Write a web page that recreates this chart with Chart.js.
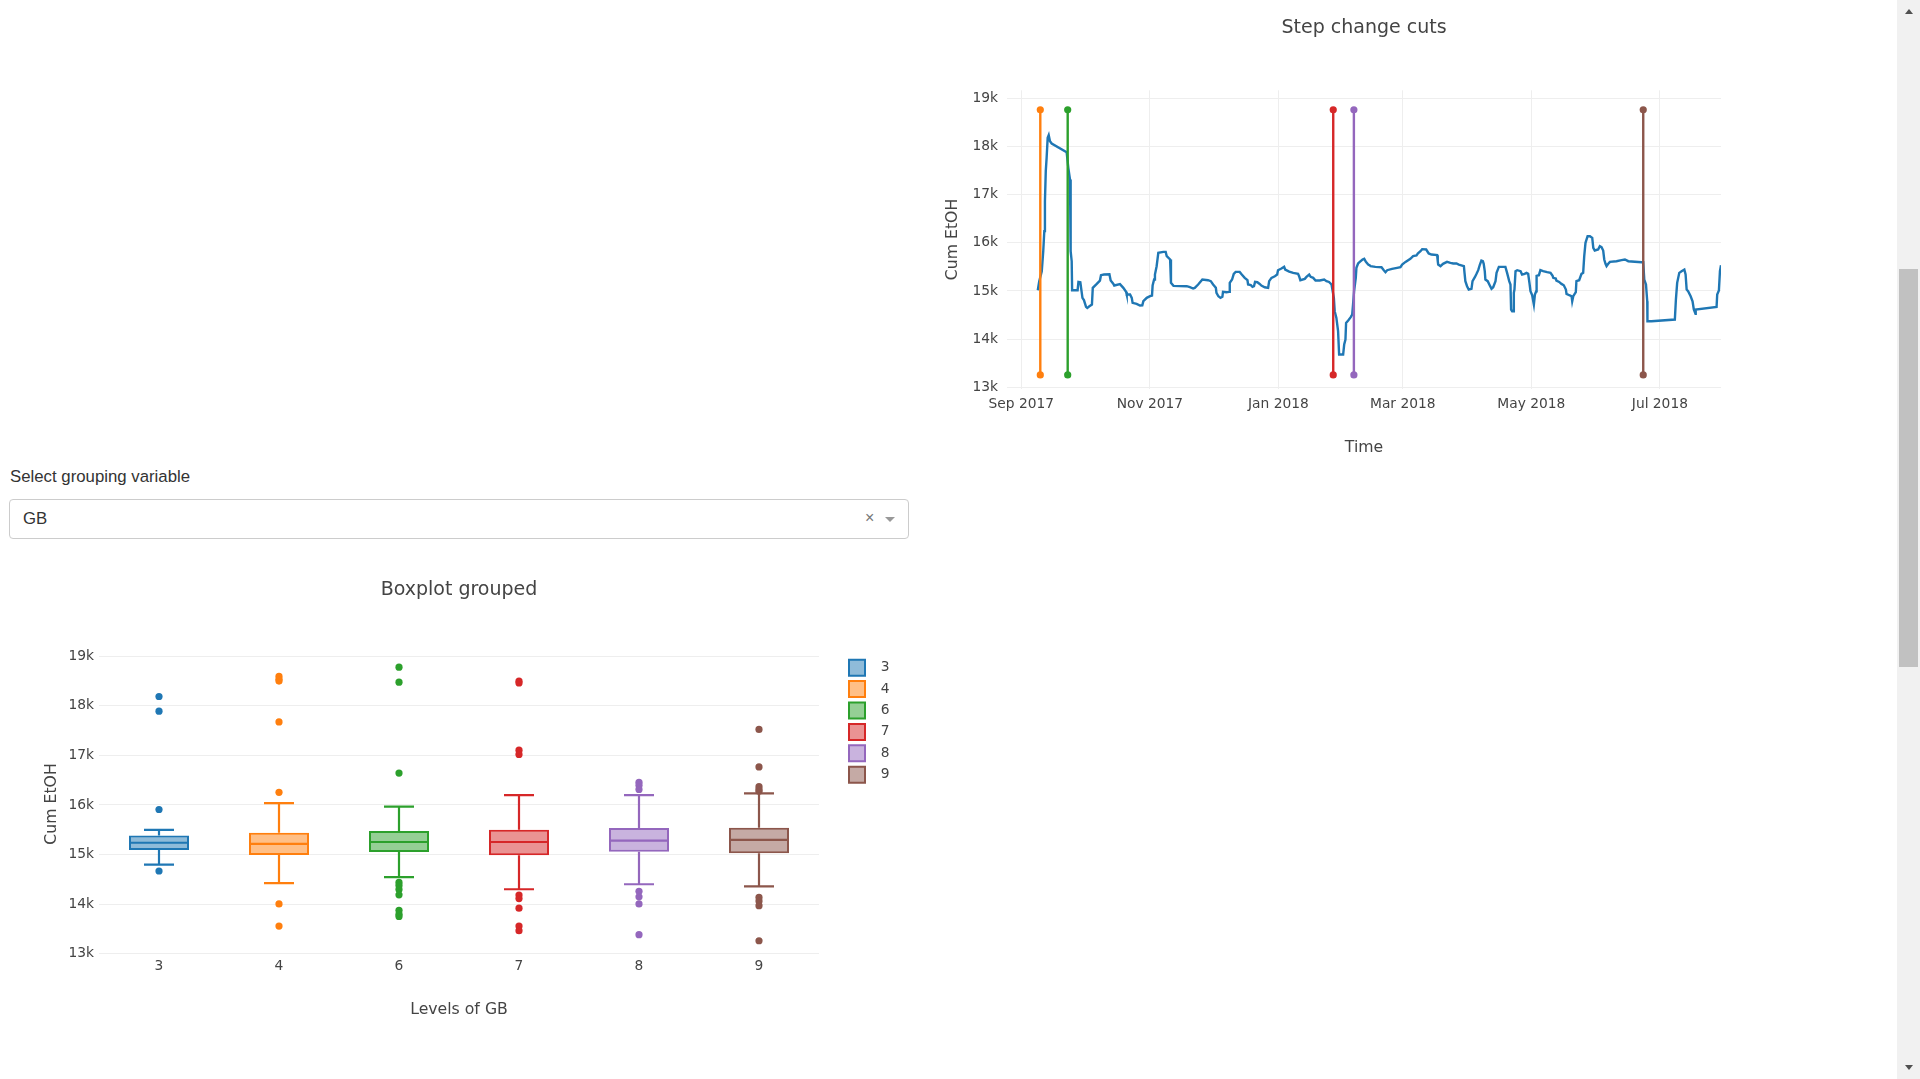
<!DOCTYPE html>
<html>
<head>
<meta charset="utf-8">
<title>Step change cuts</title>
<script src="https://cdn.jsdelivr.net/npm/chart.js@4.4.1/dist/chart.umd.min.js"></script>
<style>
  body { margin: 0; width: 1920px; height: 1079px; overflow: hidden; position: relative; background: #fff;
         font-family: "Liberation Sans", Arial, sans-serif; }
  canvas { position: absolute; }
  #steps { left: 940px; top: 0; }
  #boxes { left: 0; top: 560px; }
  .sel-label { position: absolute; left: 10px; top: 467px; font-size: 16.8px; line-height: 20px; color: #333; }
  .sel-box { position: absolute; left: 9px; top: 499px; width: 900px; height: 40px; box-sizing: border-box;
             border: 1px solid #ccc; border-radius: 4px; background: #fff; }
  .sel-box .val { position: absolute; left: 13px; top: 0; line-height: 38px; font-size: 16.8px; color: #333; }
  .sel-box .clear { position: absolute; left: 855px; top: 0; line-height: 36px; font-size: 16px; color: #777; }
  .sel-box .caret { position: absolute; left: 875px; top: 17px; width: 0; height: 0;
                    border-left: 5px solid transparent; border-right: 5px solid transparent; border-top: 5px solid #999; }
  .sb { position: absolute; left: 1897px; top: 0; width: 23px; height: 1079px; background: #f1f1f1; }
  .sb .thumb { position: absolute; left: 2px; top: 269px; width: 19px; height: 398px; background: #c1c1c1; }
  .sb .up, .sb .down { position: absolute; left: 8px; width: 0; height: 0;
                       border-left: 4px solid transparent; border-right: 4px solid transparent; }
  .sb .up { top: 9px; border-bottom: 5px solid #505050; }
  .sb .down { top: 1065px; border-top: 5px solid #505050; }
</style>
</head>
<body>

<div class="sel-label">Select grouping variable</div>
<div class="sel-box"><span class="val">GB</span><span class="clear">×</span><span class="caret"></span></div>

<canvas id="steps" width="860" height="480"></canvas>
<canvas id="boxes" width="940" height="480"></canvas>

<div class="sb"><div class="up"></div><div class="thumb"></div><div class="down"></div></div>

<script>
// ---- step change chart: time in days since 2017-09-01 ----
const timeDays = [
  7.8, 8.5, 9.7, 10.4, 10.9, 11.2, 11.6, 12.0, 12.5, 13.0, 13.6, 14.4, 21.5, 22.3, 23.1, 23.4, 23.9, 24.1,
  26.7, 27.1, 28.0, 28.5, 29.0, 29.7, 30.7, 31.3, 32.3, 33.5, 33.9, 35.8, 37.3, 37.8, 39.2, 41.8, 42.4,
  43.7, 44.1, 46.8, 48.4, 49.7, 50.0, 51.6, 52.4, 52.8, 54.7, 56.3, 57.4, 57.9, 59.5, 61.1, 62.0, 62.3,
  63.0, 63.4, 64.2, 65.0, 67.4, 68.5, 69.0, 70.6, 71.0, 72.2, 78.5, 80.0,
  81.5, 82.3, 83.9, 85.9, 88.6, 89.9, 91.0, 92.3, 92.6, 93.5, 94.5, 95.4, 95.7, 97.3, 98.6, 98.9, 100.0,
  100.8, 101.7, 103.6, 104.6, 106.0, 107.3, 107.6, 108.9, 109.7, 110.4, 110.9, 112.0, 113.1, 113.9,
  115.5, 117.1, 117.6, 118.7, 120.3, 121.4, 121.8, 123.4, 124.7, 125.2, 127.1, 129.0, 131.3, 131.8,
  132.4, 134.5, 135.3, 136.6, 137.3, 138.5, 139.6, 141.6, 143.7, 144.8, 146.0, 147.2, 147.6, 148.3,
  148.7, 149.5, 150.3, 150.8, 152.7, 153.2, 153.8, 154.1, 155.1, 156.3, 157.0, 157.4, 157.9, 158.7,
  159.0, 159.8, 160.6, 161.9, 162.7, 163.5, 164.6, 165.4,
  165.7, 168.0, 170.9, 172.0, 172.8, 173.6, 175.9, 178.3, 179.9, 180.7, 182.3, 184.6, 185.9, 187.5,
  188.1, 189.4, 190.2, 192.1, 193.3, 194.6, 197.3, 197.6, 197.8, 198.9, 200.1, 202.0, 203.6, 204.9,
  206.5, 207.6, 210.0, 210.3, 210.7, 211.5, 212.3, 213.6, 214.1, 215.2, 216.0, 216.8, 217.6, 218.3,
  219.0, 219.4, 219.9, 220.2, 221.3, 222.3, 223.1, 223.9, 225.0, 225.5, 226.6, 229.7, 230.5, 231.5,
  232.1, 232.4, 232.9, 233.4, 233.7, 234.0, 234.5, 235.3, 236.9, 237.6, 238.8, 239.7, 240.5, 241.1,
  241.6, 242.4, 243.2, 243.7, 244.3, 244.5, 245.6, 246.3, 247.6, 249.5, 251.1,
  252.1, 252.4, 253.6, 253.9, 255.2, 256.3, 257.4, 258.4, 258.7, 260.0, 261.1, 261.4, 261.9, 263.1,
  263.4, 264.7, 265.8, 266.6, 267.1, 267.7, 268.7, 269.8, 270.9, 271.4, 272.1, 273.7, 274.5, 275.3,
  276.1, 276.6, 277.2, 277.7, 278.5, 279.3, 282.4, 284.8, 286.4, 288.0, 294.3, 295.1, 295.6, 296.4,
  297.0, 297.1, 299.0, 310.1, 310.6, 311.2, 312.2, 313.3, 314.6, 315.2, 315.7, 316.4, 317.6, 318.5,
  319.1, 319.9, 320.0, 329.9, 330.2, 331.0, 331.5, 332.0
];
const cumEtoh = [
  15015, 15203, 15410, 15826, 16242, 16866, 17489, 17766, 18182, 18238, 18113, 18065, 17884, 17558, 17316, 15826, 15618, 15015,
  15015, 15187, 15180, 15015, 14856, 14810, 14669, 14648, 14680, 14717, 15064, 15146, 15215, 15327, 15341, 15348, 15215,
  15146, 15112, 15140, 15064, 14981, 14925, 14925, 14856, 14752, 14730, 14696, 14700, 14786, 14856, 14890, 14904, 15112,
  15237, 15341, 15514, 15791, 15812, 15812, 15722, 15653, 15168, 15105, 15098, 15077,
  15050, 15064, 15133, 15237, 15223, 15203, 15133, 15064, 14960, 14890, 14856, 14877, 14981, 14974, 14981, 15168, 15237,
  15355, 15396, 15396, 15341, 15272, 15223, 15133, 15120, 15085, 15098, 15187, 15180, 15146, 15112,
  15077, 15064, 15203, 15272, 15306, 15341, 15431, 15466, 15500, 15445, 15403, 15376, 15355, 15306,
  15223, 15251, 15292, 15341, 15292, 15272, 15216, 15216, 15237, 15203, 15187, 15133, 15029, 14856,
  14579, 14440, 14163, 13678, 13678, 13886, 13990, 14336, 14385, 14454, 14509, 14717, 14994, 15272,
  15480, 15570, 15604, 15653, 15667, 15604, 15549, 15528,
  15514, 15500, 15493, 15431, 15390, 15431, 15459, 15480, 15493, 15549, 15604, 15667, 15722, 15736,
  15778, 15826, 15868, 15861, 15778, 15757, 15743, 15618, 15549, 15514, 15563, 15604, 15583, 15570,
  15570, 15549, 15514, 15376, 15203, 15098, 15029, 15043, 15203, 15286, 15355, 15431, 15549, 15632,
  15618, 15563, 15410, 15237, 15203, 15112, 15043, 15077, 15203, 15376, 15500, 15500, 15376, 15203,
  15133, 14613, 14579, 14579, 14960, 15029, 15410, 15431, 15410, 15341, 15355, 15376, 15355, 15168,
  14994, 14911, 14717, 14925, 14994, 15314, 15327, 15431, 15410, 15390, 15376,
  15314, 15272, 15258, 15216, 15187, 15146, 15118, 15029, 14939, 14911, 14890, 14786, 14890, 14973,
  15203, 15223, 15355, 15376, 15722, 16000, 16138, 16138, 16104, 15896, 15840, 15861, 15930, 15910,
  15840, 15653, 15563, 15514, 15563, 15604, 15618, 15639, 15653, 15618, 15597, 15597, 15237, 15133,
  14786, 14371, 14371, 14405, 14821, 15168, 15376, 15410, 15445, 15341, 15029, 14994, 14890, 14786,
  14613, 14523, 14613, 14669, 14925, 15008, 15410, 15535
];
const cutDays = [9.0, 22.0, 148.0, 157.8, 295.1];
const cutColors = ['#ff7f0e', '#2ca02c', '#d62728', '#9467bd', '#8c564b'];
const cutLow = 13255;
const cutHigh = 18765;
const monthTickDays = [0, 61, 122, 181, 242, 303];
const monthTickLabels = ['Sep 2017', 'Nov 2017', 'Jan 2018', 'Mar 2018', 'May 2018', 'Jul 2018'];
const etohTicks = [13000, 14000, 15000, 16000, 17000, 18000, 19000];

// ---- boxplot grouped by GB ----
const groups = ['3', '4', '6', '7', '8', '9'];
const groupColors = ['#1f77b4', '#ff7f0e', '#2ca02c', '#d62728', '#9467bd', '#8c564b'];
const lowerFence = [14800, 14425, 14548, 14303, 14403, 14360];
const q1 = [15095, 14994, 15052, 14987, 15059, 15030];
const medians = [15239, 15218, 15254, 15254, 15283, 15297];
const q3 = [15383, 15441, 15477, 15499, 15535, 15542];
const upperFence = [15499, 16039, 15967, 16197, 16197, 16233];
const outliers = [
  [18186, 17890, 15909, 14670],
  [18590, 18532, 18496, 17674, 16255, 14007, 13561],
  [18777, 18474, 16644, 14440, 14380, 14300, 14190, 13878, 13800, 13755],
  [18496, 18460, 17105, 17019, 14187, 14115, 13921, 13561, 13467],
  [16457, 16400, 16313, 14260, 14150, 14007, 13388],
  [17523, 16767, 16370, 16313, 16277, 14137, 14065, 13971, 13265]
];

Chart.defaults.font.family = '"DejaVu Sans", Verdana, sans-serif';
Chart.defaults.color = '#444';

const tickFont = { size: 13.8 };
const axisTitleFont = { size: 15.7 };
const titleFont = { size: 19, weight: 'normal' };

function fade(hex, a) {
  const n = parseInt(hex.slice(1), 16);
  return `rgba(${n >> 16}, ${(n >> 8) & 255}, ${n & 255}, ${a})`;
}

const kLabel = v => (v / 1000) + 'k';

// step change chart
const stepData = timeDays.map((d, i) => ({ x: d, y: cumEtoh[i] }));
const cutSets = cutDays.map((d, i) => ({
  data: [{ x: d, y: cutLow }, { x: d, y: cutHigh }],
  borderColor: cutColors[i],
  backgroundColor: cutColors[i],
  borderWidth: 2.4,
  pointRadius: 3.6,
  pointBorderWidth: 0
}));

new Chart(document.getElementById('steps'), {
  type: 'line',
  data: {
    datasets: [...cutSets, {
      data: stepData,
      borderColor: '#1f77b4',
      borderWidth: 2.4,
      pointRadius: 0,
      tension: 0
    }]
  },
  options: {
    responsive: false,
    animation: false,
    events: [],
    layout: { padding: { left: 0, right: 79, top: 0, bottom: 0 } },
    plugins: {
      legend: { display: false },
      tooltip: { enabled: false },
      title: {
        display: true, text: 'Step change cuts', fullSize: false,
        font: titleFont, color: '#444', padding: { top: 17, bottom: 50.5 }
      }
    },
    scales: {
      x: {
        type: 'linear', min: -6.8, max: 332,
        afterBuildTicks: s => { s.ticks = monthTickDays.map(v => ({ value: v })); },
        afterFit: s => { s.height = 91.4; },
        ticks: { font: tickFont, padding: 7.3, maxRotation: 0, callback: (v, i) => monthTickLabels[i] },
        grid: { color: '#eee', drawTicks: false },
        border: { display: false },
        title: { display: true, text: 'Time', font: axisTitleFont, padding: { top: 0, bottom: 22.2 } }
      },
      y: {
        min: 12970, max: 19170,
        afterBuildTicks: s => { s.ticks = etohTicks.map(v => ({ value: v })); },
        afterFit: s => { s.width = 67; },
        ticks: { font: tickFont, padding: 9, callback: kLabel },
        grid: { color: '#eee', drawTicks: false },
        border: { display: false },
        title: { display: true, text: 'Cum EtOH', font: axisTitleFont, padding: { top: 4, bottom: 0 } }
      }
    }
  }
});

// boxplot
const boxSets = groups.map((g, i) => ({
  type: 'bar',
  label: g,
  data: groups.map((_, j) => (j === i ? [q1[i], q3[i]] : null)),
  backgroundColor: fade(groupColors[i], 0.5),
  borderColor: groupColors[i],
  borderWidth: 2,
  borderSkipped: false,
  grouped: false,
  categoryPercentage: 1,
  barPercentage: 0.5
}));
const outlierSets = groups.map((g, i) => ({
  type: 'line',
  label: g + ' outliers',
  data: outliers[i].map(v => ({ x: g, y: v })),
  showLine: false,
  pointRadius: 3.6,
  pointBorderWidth: 0,
  pointBackgroundColor: groupColors[i],
  borderColor: groupColors[i]
}));

const whiskers = {
  id: 'whiskers',
  afterDatasetsDraw(chart) {
    const ctx = chart.ctx;
    const y = chart.scales.y;
    groups.forEach((g, i) => {
      const bar = chart.getDatasetMeta(i).data[i];
      const half = bar.width / 2;
      const cap = half / 2;
      const yMed = y.getPixelForValue(medians[i]);
      const yUp = y.getPixelForValue(upperFence[i]);
      const yLo = y.getPixelForValue(lowerFence[i]);
      ctx.save();
      ctx.strokeStyle = groupColors[i];
      ctx.lineWidth = 2.2;
      ctx.beginPath();
      ctx.moveTo(bar.x - half, yMed); ctx.lineTo(bar.x + half, yMed);
      ctx.moveTo(bar.x, y.getPixelForValue(q3[i])); ctx.lineTo(bar.x, yUp);
      ctx.moveTo(bar.x - cap, yUp); ctx.lineTo(bar.x + cap, yUp);
      ctx.moveTo(bar.x, y.getPixelForValue(q1[i])); ctx.lineTo(bar.x, yLo);
      ctx.moveTo(bar.x - cap, yLo); ctx.lineTo(bar.x + cap, yLo);
      ctx.stroke();
      ctx.restore();
    });
  }
};

// the legend reserves a fixed strip and sits a little away from the plot, as plotly does
const legendPlace = {
  id: 'legendPlace',
  beforeLayout(chart) {
    const lg = chart.legend;
    if (lg && !lg._fixedFit) {
      const fit = lg.fit.bind(lg);
      lg.fit = function () { fit(); this.width = 90; };
      lg._fixedFit = true;
    }
  },
  afterLayout(chart) {
    const lg = chart.legend;
    const dx = chart.chartArea.right + 24.6 - lg.left;
    lg.left += dx;
    lg.right += dx;
    lg.top = 94.3;
    lg.bottom = lg.top + lg.height;
  }
};

const baseLabels = Chart.defaults.plugins.legend.labels.generateLabels;

new Chart(document.getElementById('boxes'), {
  type: 'bar',
  data: { labels: groups, datasets: [...boxSets, ...outlierSets] },
  plugins: [whiskers, legendPlace],
  options: {
    responsive: false,
    animation: false,
    events: [],
    layout: { padding: { left: 0, right: 31, top: 0, bottom: 0 } },
    plugins: {
      tooltip: { enabled: false },
      title: {
        display: true, text: 'Boxplot grouped', fullSize: false,
        font: titleFont, color: '#444', padding: { top: 19, bottom: 51.8 }
      },
      legend: {
        position: 'right', align: 'start',
        labels: {
          boxWidth: 16, boxHeight: 16, padding: 5.4, font: { size: 13.8 }, color: '#444',
          generateLabels: chart => baseLabels(chart)
            .filter(item => item.datasetIndex < groups.length)
            .map(item => ({ ...item, text: '  ' + item.text }))
        }
      }
    },
    scales: {
      x: {
        type: 'category',
        afterFit: s => { s.height = 85.6; },
        ticks: { font: tickFont, padding: 3.5 },
        grid: { display: false, drawTicks: false },
        border: { display: false },
        title: { display: true, text: 'Levels of GB', font: axisTitleFont, padding: { top: 0, bottom: 20.2 } }
      },
      y: {
        min: 12990, max: 19050,
        afterBuildTicks: s => { s.ticks = etohTicks.map(v => ({ value: v })); },
        afterFit: s => { s.width = 99; },
        ticks: { font: tickFont, padding: 5, callback: kLabel },
        grid: { color: '#eee', drawTicks: false },
        border: { display: false },
        title: { display: true, text: 'Cum EtOH', font: axisTitleFont, padding: { top: 43, bottom: 0 } }
      }
    }
  }
});
</script>
</body>
</html>
